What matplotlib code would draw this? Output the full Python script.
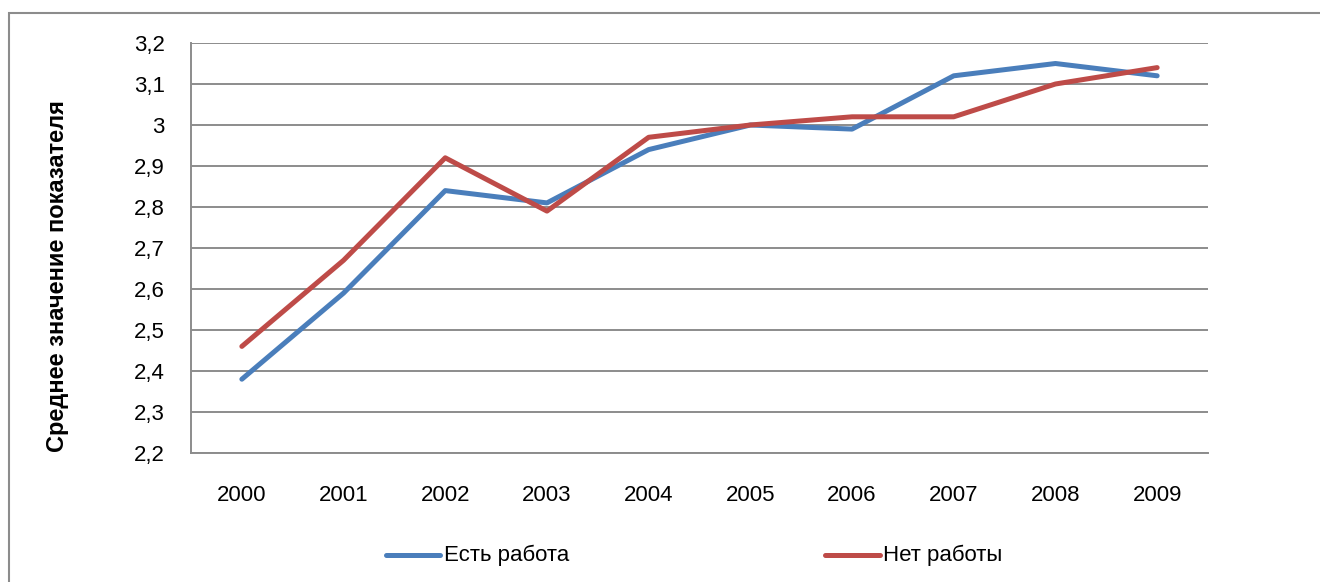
import matplotlib
matplotlib.use("Agg")
import matplotlib.pyplot as plt
from matplotlib.lines import Line2D
from matplotlib.patches import Rectangle

years = ["2000", "2001", "2002", "2003", "2004", "2005", "2006", "2007", "2008", "2009"]
has_work = [2.38, 2.59, 2.84, 2.81, 2.94, 3.00, 2.99, 3.12, 3.15, 3.12]
no_work = [2.46, 2.67, 2.92, 2.79, 2.97, 3.00, 3.02, 3.02, 3.10, 3.14]
yticks = [2.2, 2.3, 2.4, 2.5, 2.6, 2.7, 2.8, 2.9, 3.0, 3.1, 3.2]
ytick_labels = ["2,2", "2,3", "2,4", "2,5", "2,6", "2,7", "2,8", "2,9", "3", "3,1", "3,2"]
series_names = ["Есть работа", "Нет работы"]

plt.rcParams['font.family'] = ['Liberation Sans', 'DejaVu Sans']

W, H = 1320, 582
fig = plt.figure(figsize=(W / 100, H / 100), dpi=100)
fig.patch.set_facecolor("white")

# outer chart frame
fig.patches.append(Rectangle((9 / W, -0.1), 1.2, 1 - 13 / H + 0.1, transform=fig.transFigure,
                             fill=False, edgecolor="#8c8c8c", linewidth=1.5, zorder=0))

ax = fig.add_axes([191 / W, 1 - 453 / H, (1208 - 191) / W, (453 - 43) / H])
blue = "#4A7EBB"
red = "#BE4B48"
x = list(range(len(years)))
ax.plot(x, has_work, color=blue, lw=3.6, solid_capstyle="round", solid_joinstyle="round", zorder=3)
ax.plot(x, no_work, color=red, lw=3.6, solid_capstyle="round", solid_joinstyle="round", zorder=4)

ax.set_xlim(-0.5, len(years) - 0.5)
ax.set_ylim(2.2, 3.2)
ax.set_yticks(yticks)
ax.set_yticklabels(ytick_labels)
ax.set_xticks(x)
ax.set_xticklabels(years)
ax.tick_params(axis="both", length=0, labelsize=16, colors="black")
ax.tick_params(axis="y", pad=19)
ax.tick_params(axis="x", pad=23)
ax.grid(axis="y", color="#8c8c8c", linewidth=1.4)
ax.set_axisbelow(True)
for s in ["top", "right"]:
    ax.spines[s].set_visible(False)
for s in ["left", "bottom"]:
    ax.spines[s].set_color("#8c8c8c")
    ax.spines[s].set_linewidth(1.4)

fig.text(58 / W, 1 - 276 / H, "Среднее значение показателя", rotation=90,
         ha="center", va="center", fontsize=17, fontweight="bold")

# legend
for (x0, x1, tx), name, c in zip([(386, 440, 444), (825, 880, 883)], series_names, [blue, red]):
    fig.lines.append(Line2D([x0 / W, x1 / W], [1 - 555 / H] * 2, transform=fig.transFigure,
                            color=c, lw=3.6, solid_capstyle="round"))
    fig.text(tx / W, 1 - 555 / H, name, ha="left", va="center", fontsize=16)

fig.savefig("out.png", dpi=100)
